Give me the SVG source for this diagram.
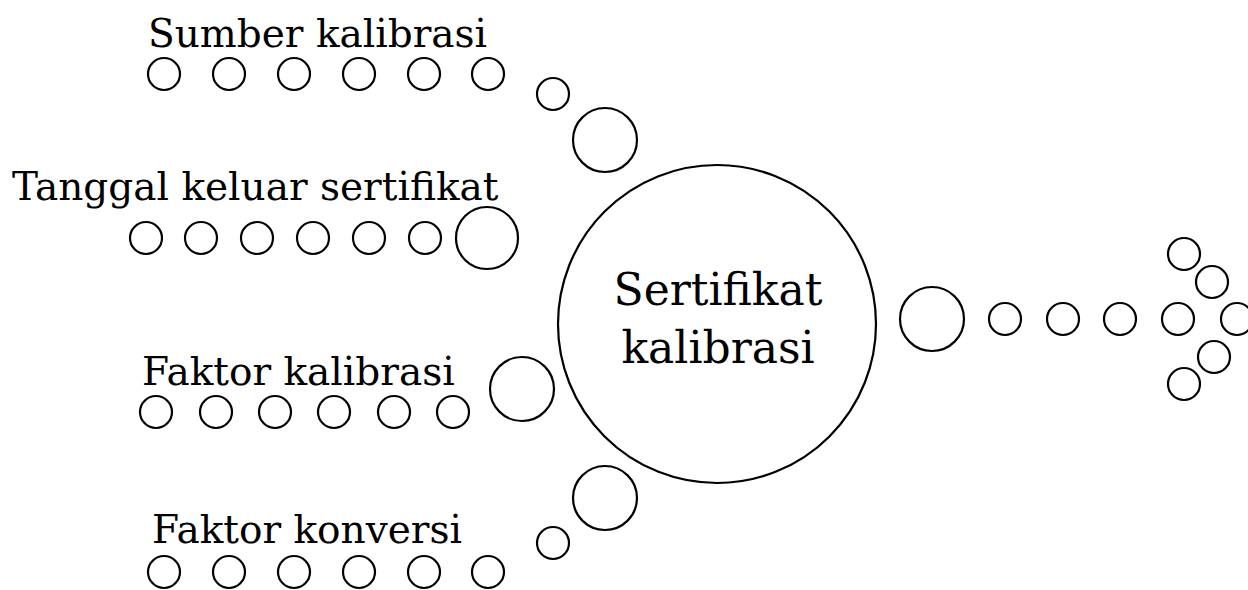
<svg xmlns="http://www.w3.org/2000/svg" width="1248" height="590" viewBox="0 0 1248 590">
<style>
circle{fill:none;stroke:#000;stroke-width:2.2}
.s{}
text{font-family:"DejaVu Serif","Liberation Serif",serif;fill:#000}
.lbl{font-size:39px}
.ctr{font-size:44px;text-anchor:middle}
</style>
<rect width="1248" height="590" fill="#fff"/>
<g id="center">
<circle cx="717" cy="324" r="159"/>
<text class="ctr" x="718" y="305">Sertifikat</text>
<text class="ctr" x="718" y="363">kalibrasi</text>
</g>
<g id="sumber">
<text class="lbl" x="148" y="47">Sumber kalibrasi</text>
<circle cx="164" cy="74" r="16"/><circle cx="229" cy="74" r="16"/><circle cx="294" cy="74" r="16"/><circle cx="359" cy="74" r="16"/><circle cx="424" cy="74" r="16"/><circle cx="488" cy="74" r="16"/>
</g>
<g id="tanggal">
<text class="lbl" x="12" y="200">Tanggal keluar sertifikat</text>
<circle cx="146" cy="238" r="16"/><circle cx="201" cy="238" r="16"/><circle cx="257" cy="238" r="16"/><circle cx="313" cy="238" r="16"/><circle cx="369" cy="238" r="16"/><circle cx="425" cy="238" r="16"/>
</g>
<g id="faktor-kalibrasi">
<text class="lbl" x="142" y="385">Faktor kalibrasi</text>
<circle cx="156" cy="412" r="16"/><circle cx="216" cy="412" r="16"/><circle cx="275" cy="412" r="16"/><circle cx="334" cy="412" r="16"/><circle cx="394" cy="412" r="16"/><circle cx="453" cy="412" r="16"/>
</g>
<g id="faktor-konversi">
<text class="lbl" x="152" y="543">Faktor konversi</text>
<circle cx="164" cy="572" r="16"/><circle cx="229" cy="572" r="16"/><circle cx="294" cy="572" r="16"/><circle cx="359" cy="572" r="16"/><circle cx="424" cy="572" r="16"/><circle cx="488" cy="572" r="16"/>
</g>
<g id="connectors">
<circle cx="553" cy="94" r="16"/>
<circle cx="605" cy="140" r="32"/>
<circle cx="487" cy="238" r="31"/>
<circle cx="522" cy="389" r="32"/>
<circle cx="553" cy="543" r="16"/>
<circle cx="605" cy="498" r="32"/>
<circle cx="932" cy="319" r="32"/>
<circle cx="1005" cy="319" r="16"/><circle cx="1063" cy="319" r="16"/><circle cx="1120" cy="319" r="16"/><circle cx="1178" cy="319" r="16"/><circle cx="1237" cy="319" r="16"/>
<circle cx="1184" cy="254" r="16"/><circle cx="1212" cy="282" r="16"/>
<circle cx="1214" cy="357" r="16"/><circle cx="1184" cy="384" r="16"/>
</g>
</svg>
